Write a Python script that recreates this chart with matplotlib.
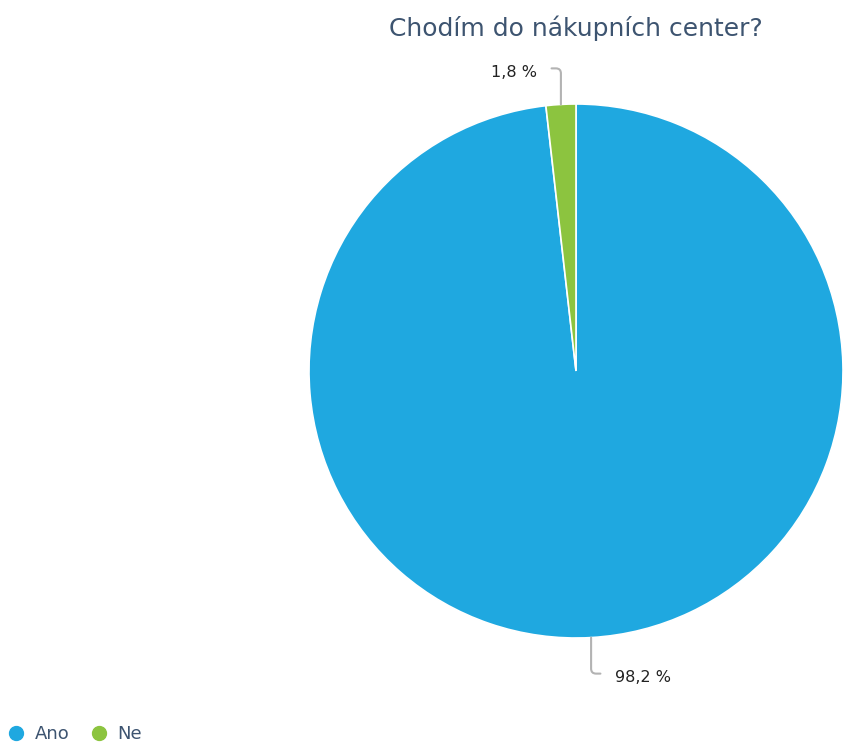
import numpy as np
import matplotlib
matplotlib.use("Agg")
import matplotlib.pyplot as plt
from matplotlib.lines import Line2D

labels = ["Ano", "Ne"]
values = [98.2, 1.8]
colors = ["#1fa8e0", "#8cc43f"]
title = "Chodím do nákupních center?"

plt.rcParams['font.family'] = ['DejaVu Sans']

W, H = 846, 746
fig = plt.figure(figsize=(W / 100, H / 100), dpi=100)

# pie centre / radius in pixels
cx, cy, r = 576, 371, 267
ax = fig.add_axes([(cx - r) / W, (H - cy - r) / H, 2 * r / W, 2 * r / H])
wedges, _ = ax.pie(values, colors=colors, startangle=90, counterclock=False,
                   wedgeprops=dict(edgecolor="white", linewidth=1.2))
ax.set_xlim(-1, 1)
ax.set_ylim(-1, 1)
ax.set_aspect("equal")
ax.axis("off")

# data labels with leader lines
for w, v in zip(wedges, values):
    mid = np.deg2rad((w.theta1 + w.theta2) / 2)
    x0, y0 = np.cos(mid), np.sin(mid)
    sgn = np.sign(y0)
    y1 = y0 + sgn * 0.135
    side = 1 if x0 > 0 else -1
    x2 = x0 + side * 0.035
    ax.annotate("", xy=(x0, y0), xytext=(x2, y1), annotation_clip=False,
                arrowprops=dict(arrowstyle="-", color="#b3b3b3", lw=1.5,
                                shrinkA=0, shrinkB=0,
                                connectionstyle="angle,angleA=0,angleB=90,rad=5"))
    txt = f"{v:.1f} %".replace(".", ",")
    ax.text(x2 + side * 0.055, y1 - 0.014, txt,
            ha="left" if side > 0 else "right", va="center",
            fontsize=11.5, color="#222222", clip_on=False)

fig.text(cx / W, 1 - 28 / H, title, ha="center", va="center",
         fontsize=18, color="#3d5470")

handles = [Line2D([], [], marker="o", linestyle="", markersize=10,
                  markerfacecolor=c, markeredgecolor=c) for c in colors]
fig.legend(handles, labels, loc="center left", bbox_to_anchor=(0.0, 1 - 734 / H),
           ncol=2, frameon=False, fontsize=13, handletextpad=0.64,
           handlelength=0.8, borderpad=0.5, borderaxespad=0,
           columnspacing=1.2, labelcolor="#3d5470")

fig.savefig("out.png", dpi=100)
